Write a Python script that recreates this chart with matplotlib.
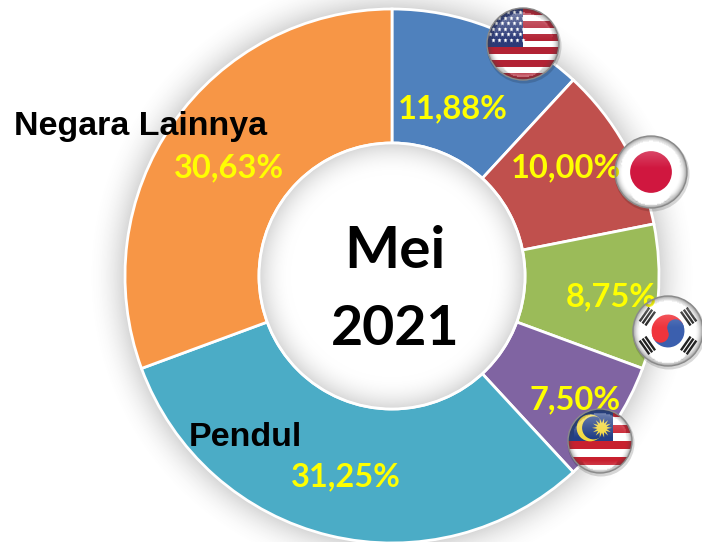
import numpy as np
import matplotlib
matplotlib.use("Agg")
import matplotlib.pyplot as plt
from matplotlib.patches import Circle, Rectangle, Wedge, Polygon

labels = ["Amerika Serikat", "Jepang", "Korea Selatan", "Malaysia", "Pendul", "Negara Lainnya"]
values = [11.88, 10.00, 8.75, 7.50, 31.25, 30.63]
value_text = ["11,88%", "10,00%", "8,75%", "7,50%", "31,25%", "30,63%"]
colors = ["#4f81bd", "#c0504d", "#9bbb59", "#8064a2", "#4bacc6", "#f79646"]
center_text = ["Mei", "2021"]

W, H = 702, 542
CX, CY, R, R_IN = 392, H - 276, 267, 133


def py(y):
    return H - y


fig = plt.figure(figsize=(W / 100, H / 100), dpi=100)
ax = fig.add_axes([0, 0, 1, 1])

# soft shadow behind the ring
xx, yy = np.meshgrid(np.arange(W) + 0.5, np.arange(H) + 0.5)
dist = np.hypot(xx - CX, yy - CY)
shadow = np.zeros((H, W, 4))
shadow[..., :3] = 0.45
shadow[..., 3] = np.clip(1 - (dist - R) / 38, 0, 1) ** 2 * 0.3
ax.imshow(shadow, extent=[0, W, 0, H], origin="lower", zorder=0, interpolation="bilinear")

wedges, _ = ax.pie(values, colors=colors, startangle=90, counterclock=False, radius=R,
                   center=(CX, CY), frame=True,
                   wedgeprops=dict(width=R - R_IN, edgecolor="white", linewidth=2))
for w in wedges:
    w.set_zorder(2)

# hole with its inner shadow
hole = np.ones((H, W, 4))
grey = 1 - 0.16 * np.clip((dist - (R_IN - 32)) / 32, 0, 1) ** 2
hole[..., 0] = grey
hole[..., 1] = grey
hole[..., 2] = grey
im = ax.imshow(hole, extent=[0, W, 0, H], origin="lower", zorder=3, interpolation="bilinear")
im.set_clip_path(Circle((CX, CY), R_IN - 1, transform=ax.transData))
ax.add_patch(Circle((CX, CY), R_IN, fc="none", ec="white", lw=2, zorder=3.5))


def clipped(patch, clip):
    ax.add_patch(patch)
    patch.set_clip_path(clip)
    patch.set_zorder(6)
    return patch


def glass(cx, cy, r):
    # rim shading and top highlight of a round button
    n = int(2 * r) + 2
    gx, gy = np.meshgrid(np.linspace(-1.05, 1.05, n), np.linspace(-1.05, 1.05, n))
    d = np.hypot(gx, gy)
    img = np.zeros((n, n, 4))
    dark = np.clip((d - 0.78) / 0.22, 0, 1) ** 2 * 0.5
    light = np.clip((gy - 0.1) / 0.9, 0, 1) * 0.38 * (d < 0.88)
    low = np.clip((-gy - 0.6) / 0.4, 0, 1) * 0.3 * (d < 0.92)
    img[..., :3] = np.where(dark[..., None] > light[..., None] + low[..., None], 0.25, 1.0)
    img[..., 3] = np.clip(dark + light + low, 0, 0.8)
    e = 1.05 * r
    im = ax.imshow(img, extent=[cx - e, cx + e, cy - e, cy + e], origin="lower", zorder=7,
                   interpolation="bilinear")
    im.set_clip_path(Circle((cx, cy), r, transform=ax.transData))
    ax.add_patch(Circle((cx, cy), r, fc="none", ec="#8a8a8a", lw=1, zorder=8))


def base(cx, cy, r, color="white"):
    ax.add_patch(Circle((cx + 1, cy - 2), r + 1.5, fc="#000000", alpha=0.15, ec="none", zorder=4.5))
    c = Circle((cx, cy), r, fc=color, ec="none", zorder=5, transform=ax.transData)
    ax.add_patch(c)
    return c


def flag_usa(cx, cy, r):
    clip = base(cx, cy, r)
    n = 11
    h = 2 * r / n
    for i in range(0, n, 2):
        clipped(Rectangle((cx - r, cy + r - (i + 1) * h), 2 * r, h, fc="#b22234", ec="none"), clip)
    clipped(Rectangle((cx - r, cy + r - 6 * h), r, 6 * h, fc="#2b3a78", ec="none"), clip)
    for row in range(6):
        for col in range(6):
            sx = cx - r + 3 + col * 6 + (row % 2) * 3
            sy = cy + r - 4 - row * 5.5
            st = ax.plot(sx, sy, marker="*", ms=3.6, color="white", mec="none", zorder=6)[0]
            st.set_clip_path(clip)
    glass(cx, cy, r)


def flag_japan(cx, cy, r):
    clip = base(cx, cy, r)
    clipped(Circle((cx, cy), r * 0.58, fc="#d0173f", ec="none"), clip)
    glass(cx, cy, r)


def flag_korea(cx, cy, r):
    clip = base(cx, cy, r)
    t = r * 0.47
    ang = 25
    clipped(Wedge((cx, cy), t, ang, ang + 180, fc="#f0343c", ec="none"), clip)
    clipped(Wedge((cx, cy), t, ang + 180, ang + 360, fc="#3b5fae", ec="none"), clip)
    u = np.array([np.cos(np.radians(ang)), np.sin(np.radians(ang))])
    clipped(Circle((cx - u[0] * t / 2, cy - u[1] * t / 2), t / 2, fc="#f0343c", ec="none"), clip)
    clipped(Circle((cx + u[0] * t / 2, cy + u[1] * t / 2), t / 2, fc="#3b5fae", ec="none"), clip)
    for a in (35, 145, 215, 325):
        rad = np.radians(a)
        d = np.array([np.cos(rad), np.sin(rad)])
        n = np.array([-d[1], d[0]])
        for k in (0.62, 0.72, 0.82):
            p = np.array([cx, cy]) + d * r * k
            q = n * r * 0.24
            seg = ax.plot([p[0] - q[0], p[0] + q[0]], [p[1] - q[1], p[1] + q[1]],
                          color="#222222", lw=1.7, solid_capstyle="butt", zorder=6)[0]
            seg.set_clip_path(clip)
    glass(cx, cy, r)


def flag_malaysia(cx, cy, r):
    clip = base(cx, cy, r)
    n = 8
    h = 2 * r / n
    for i in range(0, n, 2):
        clipped(Rectangle((cx - r, cy + r - (i + 1) * h), 2 * r, h, fc="#c8202f", ec="none"), clip)
    clipped(Rectangle((cx - r, cy), 1.41 * r, r, fc="#223f86", ec="none"), clip)
    clipped(Circle((cx - 0.31 * r, cy + 0.41 * r), 0.42 * r, fc="#f3d93f", ec="none"), clip)
    clipped(Circle((cx - 0.2 * r, cy + 0.41 * r), 0.36 * r, fc="#223f86", ec="none"), clip)
    pts = []
    for i in range(28):
        rr = 0.31 * r if i % 2 == 0 else 0.15 * r
        a = np.pi * i / 14
        pts.append((cx + 0.06 * r + rr * np.cos(a), cy + 0.41 * r + rr * np.sin(a)))
    clipped(Polygon(pts, fc="#f3d93f", ec="none"), clip)
    glass(cx, cy, r)


flag_usa(523, py(44), 36)
flag_japan(651, py(172), 36)
flag_korea(668, py(331), 35)
flag_malaysia(600, py(441), 32)

calibri = ["Lato", "DejaVu Sans"]
value_pos = [(453, 118), (566, 177), (611, 306), (575, 409), (346, 486), (229, 177)]
for txt, (x, y) in zip(value_text, value_pos):
    ax.text(x, py(y), txt, color="#ffff00", fontsize=23.5, fontweight="bold", family=calibri,
            ha="center", va="baseline", zorder=5.5)

ax.text(140, py(135), labels[5], color="black", fontsize=24.5, fontweight="bold",
        family="Liberation Sans", ha="center", va="baseline", zorder=6)
ax.text(245.5, py(446), labels[4], color="black", fontsize=24.5, fontweight="bold",
        family="Liberation Sans", ha="center", va="baseline", zorder=6)

ax.text(395, py(268), center_text[0], color="black", fontsize=42, fontweight="bold",
        family=calibri, ha="center", va="baseline", zorder=6)
ax.text(395, py(345), center_text[1], color="black", fontsize=40, fontweight="bold",
        family=calibri, ha="center", va="baseline", zorder=6)

ax.set_xlim(0, W)
ax.set_ylim(0, H)
ax.set_aspect("auto")
ax.axis("off")
fig.savefig("out.png", dpi=100)
